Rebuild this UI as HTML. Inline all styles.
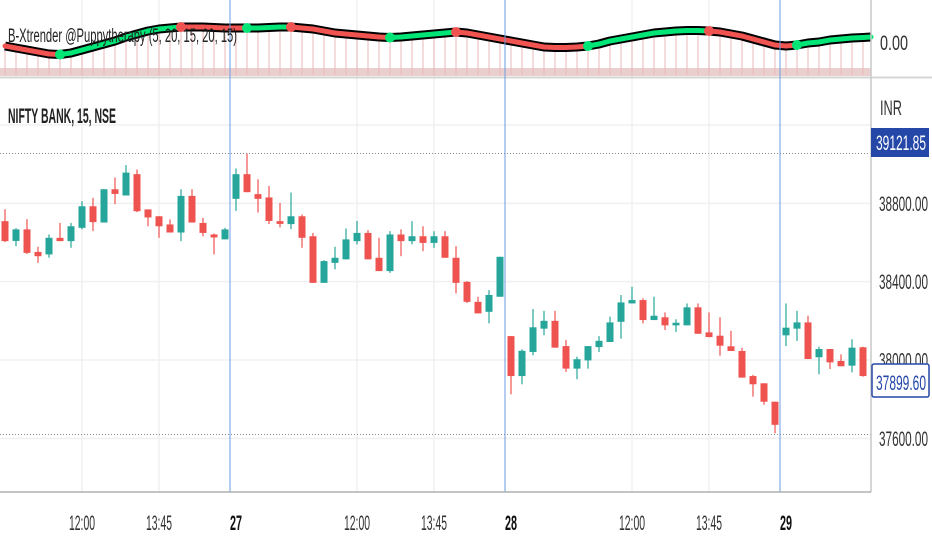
<!DOCTYPE html>
<html><head><meta charset="utf-8"><style>
html,body{margin:0;padding:0;background:#fff;}
svg{display:block;font-family:"Liberation Sans",sans-serif;}
</style></head><body>
<svg id="chart" width="932" height="550" viewBox="0 0 932 550" xmlns="http://www.w3.org/2000/svg">
<rect x="0" y="0" width="932" height="550" fill="#fff"/>
<g id="grid"></g>
<g id="osc"></g>
<line x1="0" y1="77.5" x2="932" y2="77.5" stroke="#d6d6d6" stroke-width="2"/>
<g id="candles"></g>
<g id="seps"></g>
<line x1="0" y1="153.5" x2="871" y2="153.5" stroke="#888" stroke-dasharray="1,2"/>
<line x1="0" y1="434.5" x2="871" y2="434.5" stroke="#888" stroke-dasharray="1,2"/>
<line x1="871" y1="0" x2="871" y2="492" stroke="#c8c8c8" stroke-width="1.5"/>
<line x1="0" y1="492" x2="871" y2="492" stroke="#b0b0b0" stroke-width="1.5"/>
<g id="yaxis"></g>
<g id="xaxis"></g>
<text x="8" y="42" font-size="19" fill="#222" textLength="229" lengthAdjust="spacingAndGlyphs">B-Xtrender @Puppytherapy (5, 20, 15, 20, 15)</text>
<text x="8" y="123" font-size="21" font-weight="bold" fill="#222" textLength="108" lengthAdjust="spacingAndGlyphs">NIFTY BANK, 15, NSE</text>
<text x="880" y="50" font-size="21" fill="#333" textLength="28" lengthAdjust="spacingAndGlyphs">0.00</text>
<text x="880" y="115" font-size="21" fill="#333" textLength="22" lengthAdjust="spacingAndGlyphs">INR</text>
<rect x="871" y="128" width="58" height="29" fill="#2447a8"/>
<text x="876" y="150" font-size="21" fill="#fff" textLength="50" lengthAdjust="spacingAndGlyphs">39121.85</text>
<rect x="872" y="364" width="57" height="33" fill="#fff" stroke="#2447a8" stroke-width="1.5" rx="2"/>
<text x="876" y="390" font-size="21" fill="#2447a8" textLength="50" lengthAdjust="spacingAndGlyphs">37899.60</text>
</svg>
<script>
const opens=[38709,38608,38667,38552,38539,38624,38607,38675,38785,38702,38872,38840,38949,38769,38734,38692,38651,38838,38700,38641,38616,38823,38949,38847,38830,38709,38694,38734,38632,38394,38496,38514,38607,38649,38522,38454,38641,38607,38632,38598,38632,38522,38399,38297,38246,38323,38122,37918,38041,38160,38200,38071,37956,37998,38066,38092,38195,38289,38306,38204,38218,38177,38177,38269,38141,38124,38070,38046,37918,37881,37787,38126,38160,38192,38014,38056,37995,37971,38065,37929];
const highs=[38770,38673,38719,38578,38641,38700,38700,38811,38828,38872,38932,38995,38973,38769,38734,38718,38872,38872,38726,38646,38675,38978,39054,38923,38889,38802,38855,38743,38649,38510,38578,38672,38710,38663,38624,38658,38667,38709,38683,38658,38658,38581,38403,38323,38357,38527,38122,38055,38260,38251,38251,38102,38017,38071,38122,38221,38332,38374,38315,38323,38243,38208,38289,38289,38243,38218,38149,38063,37924,37881,37787,38289,38251,38226,38068,38056,38029,38106,38068,37929];
const lows=[38602,38581,38541,38496,38522,38607,38573,38667,38658,38702,38796,38840,38755,38683,38624,38651,38607,38702,38632,38539,38616,38761,38857,38753,38694,38677,38668,38573,38394,38394,38463,38514,38590,38514,38454,38445,38530,38590,38556,38573,38522,38340,38291,38238,38187,38323,37825,37876,38024,38126,38063,37939,37902,37956,38041,38092,38109,38289,38187,38204,38153,38143,38177,38134,38117,38022,38046,37910,37813,37771,37626,38071,38097,38005,37927,37954,37968,37937,37915,37888];
const closes=[38607,38667,38547,38530,38624,38607,38683,38785,38704,38872,38848,38957,38760,38728,38683,38651,38838,38702,38649,38626,38667,38949,38857,38823,38710,38695,38734,38624,38394,38505,38522,38616,38649,38514,38454,38641,38607,38632,38598,38632,38522,38394,38297,38238,38332,38527,37918,38047,38167,38200,38063,37956,38004,38071,38098,38192,38294,38306,38204,38226,38177,38190,38269,38134,38117,38073,38046,37910,37876,37787,37669,38165,38192,38005,38056,37988,37968,38063,37918,37894];
const priceTicks=[37600,38000,38400,38800];
const timeLabels=["12:00","13:45","27","12:00","13:45","28","12:00","13:45","29"];
const timeLabelBars=[-14,-7,0,11,18,25,36,43,50];
const dayBars=[0,25,50];
const oscValues=[-5,-7,-9,-11,-13,-13.5,-12,-9,-6,-3,0,4,7,10,12,13,14,14,14,13.5,13,13,13,13,13.5,14,14,13,12,10,8,7,6,5,4,3.5,4,5,6,7,8,9,8,6,4,2,0,-2,-4,-6,-6.5,-6.5,-6,-5,-3,0,2,4,6,8,9,10,10.5,10.5,10,9,7,5,2,-1,-4,-5,-4,-2,-1,1,2,3,3.5,4];
const oscColors="RRRRRGGGGGGGGGGGRRRRRRGGGGRRRRRRRRRGGGGGGRRRRRRRRRRRRGGGGGGGGGGGRRRRRRRRGGGGGGGG";

const NS="http://www.w3.org/2000/svg";
function xOf(i){return 236+11*(i-21);}
function yOf(p){return 360-(p-38000)*0.19583;}
function oscY(v){return 41-v;}
function mk(tag,attrs,parent){const e=document.createElementNS(NS,tag);for(const k in attrs)e.setAttribute(k,attrs[k]);parent.appendChild(e);return e;}

const grid=document.getElementById('grid');
[39200,38800,38400,38000,37600].forEach(p=>{
 const l=mk('line',{x1:0,x2:871,y1:yOf(p),y2:yOf(p),stroke:'#f0f0f2','stroke-width':1.5},grid);
 
 
});
timeLabelBars.forEach((b,i)=>{
 if(timeLabels[i].length>2){
 const l=mk('line',{x1:xOf(b+21),x2:xOf(b+21),y1:0,y2:492,stroke:'#f0f0f2','stroke-width':1.5},grid);
 
 
 }
});

const osc=document.getElementById('osc');
const band=mk('rect',{x:0,y:68,width:871,height:8,fill:'#d9a8a8',opacity:0.55},osc);


for(let i=0;i<oscValues.length;i++){
 const x=xOf(i);if(x>868)break;
 const l=mk('line',{x1:x,x2:x,y1:oscY(oscValues[i])+4,y2:75,stroke:'#e9b8b8','stroke-width':1},osc);
 
 
}
let d='';
for(let i=0;i<oscValues.length;i++){const x=Math.min(xOf(i),871);d+=(i?'L':'M')+x+','+oscY(oscValues[i]);}
const wl=mk('path',{d:d,fill:'none',stroke:'#000','stroke-width':9,'stroke-linejoin':'round'},osc);


for(let i=0;i<oscValues.length-1;i++){
 const x1=Math.min(xOf(i),871),x2=Math.min(xOf(i+1),871);
 const c=oscColors[i]==='G'?'#00e676':'#f05350';
 const s=mk('line',{x1:x1,y1:oscY(oscValues[i]),x2:x2,y2:oscY(oscValues[i+1]),stroke:c,'stroke-width':5,'stroke-linecap':'round'},osc);
 
 
}
for(let i=1;i<oscValues.length;i++){
 if(oscColors[i]!==oscColors[i-1]){
  const c=oscColors[i]==='G'?'#00e676':'#f05350';
  const dot=mk('circle',{cx:xOf(i),cy:oscY(oscValues[i]),r:5,fill:c},osc);
  
  
 }
}

const cg=document.getElementById('candles');
for(let i=0;i<opens.length;i++){
 const x=xOf(i);if(x-4>871)break;
 const up=closes[i]>=opens[i];const c=up?'#26a69a':'#ef5350';
 const w=mk('line',{x1:x,x2:x,y1:yOf(highs[i]),y2:yOf(lows[i]),stroke:c,'stroke-width':1.2},cg);
 
 
 const top=yOf(Math.max(opens[i],closes[i])),bot=yOf(Math.min(opens[i],closes[i]));
 const b=mk('rect',{x:x-3.5,y:top,width:Math.max(0,Math.min(7,871-(x-3.5))),height:Math.max(1.5,bot-top),fill:c},cg);
 
 
}

const seps=document.getElementById('seps');
dayBars.forEach(b=>{
 const x=xOf(b+21)-6;
 const l=mk('line',{x1:x,x2:x,y1:0,y2:492,stroke:'#6b9be0','stroke-width':1},seps);
 
 
});

const ya=document.getElementById('yaxis');
priceTicks.forEach(p=>{
 const t=mk('text',{x:879,y:yOf(p)+7.5,'font-size':21,fill:'#333',textLength:49,lengthAdjust:'spacingAndGlyphs'},ya);
 t.textContent=p.toFixed(2);
 
 
});
const xa=document.getElementById('xaxis');
timeLabels.forEach((s,i)=>{
 const bold=s.length<=2;
 const t=mk('text',{x:xOf(timeLabelBars[i]+21),y:530,'font-size':21,fill:bold?'#111':'#333','font-weight':bold?'bold':'normal','text-anchor':'middle',textLength:bold?12:26,lengthAdjust:'spacingAndGlyphs'},xa);
 t.textContent=s;
 
 
});
</script>
</body></html>
